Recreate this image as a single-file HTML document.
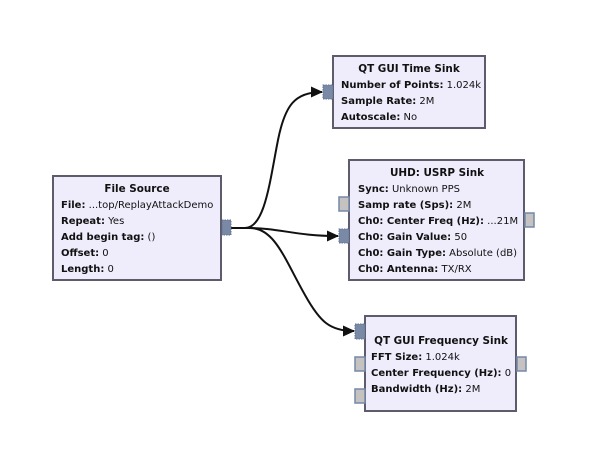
<!DOCTYPE html>
<html><head><meta charset="utf-8"><style>
html,body{margin:0;padding:0;background:#fff;}
svg{display:block;}
text{font-family:"DejaVu Sans","Liberation Sans",sans-serif;font-size:10px;fill:#111;}
.t{font-weight:bold;text-anchor:middle;font-size:10.4px;}
.b{font-weight:bold;}
.box{fill:#efedfc;stroke:#5c5c6c;stroke-width:2;}
.pb{fill:#7a8aa6;stroke:#5f7090;stroke-width:1;stroke-dasharray:1.5 1;}
.pg{fill:#c6c2c2;stroke:#7488a8;stroke-width:1.5;}
.e{fill:none;stroke:#111;stroke-width:2;}
</style></head><body>
<svg width="598" height="463" viewBox="0 0 598 463">
<defs><marker id="a" markerWidth="12" markerHeight="12" refX="11" refY="6" orient="auto" markerUnits="userSpaceOnUse"><path d="M0,0.5 L12,6 L0,11.5 Z" fill="#111"/></marker></defs>
<path class="e" d="M231,228 L245,228 C265,228 270,180 278,140 C285,105 295,92 322,92" marker-end="url(#a)"/>
<path class="e" d="M231,228 L248,228 C280,228 295,236 338,236" marker-end="url(#a)"/>
<path class="e" d="M231,228 L250,228 C275,228 285,260 305,295 C320,322 330,331 354,331" marker-end="url(#a)"/>

<rect class="box" x="53" y="176" width="168" height="104"/>
<rect class="pb" x="222" y="220" width="9" height="15"/>
<text class="t" x="137" y="192">File Source</text>
<text x="61" y="208"><tspan class="b">File:</tspan> ...top/ReplayAttackDemo</text>
<text x="61" y="224"><tspan class="b">Repeat:</tspan> Yes</text>
<text x="61" y="240"><tspan class="b">Add begin tag:</tspan> ()</text>
<text x="61" y="256"><tspan class="b">Offset:</tspan> 0</text>
<text x="61" y="272"><tspan class="b">Length:</tspan> 0</text>

<rect class="box" x="333" y="56" width="152" height="72"/>
<rect class="pb" x="323" y="85" width="10" height="14"/>
<text class="t" x="409" y="72">QT GUI Time Sink</text>
<text x="341" y="88"><tspan class="b">Number of Points:</tspan> 1.024k</text>
<text x="341" y="104"><tspan class="b">Sample Rate:</tspan> 2M</text>
<text x="341" y="120"><tspan class="b">Autoscale:</tspan> No</text>

<rect class="box" x="349" y="160" width="175" height="120"/>
<rect class="pg" x="339" y="197" width="10" height="14"/>
<rect class="pb" x="339" y="229" width="10" height="14"/>
<rect class="pg" x="525" y="213" width="9" height="14"/>
<text class="t" x="437" y="176">UHD: USRP Sink</text>
<text x="358" y="192"><tspan class="b">Sync:</tspan> Unknown PPS</text>
<text x="358" y="208"><tspan class="b">Samp rate (Sps):</tspan> 2M</text>
<text x="358" y="224"><tspan class="b">Ch0: Center Freq (Hz):</tspan> ...21M</text>
<text x="358" y="240"><tspan class="b">Ch0: Gain Value:</tspan> 50</text>
<text x="358" y="256"><tspan class="b">Ch0: Gain Type:</tspan> Absolute (dB)</text>
<text x="358" y="272"><tspan class="b">Ch0: Antenna:</tspan> TX/RX</text>

<rect class="box" x="365" y="316" width="151" height="95"/>
<rect class="pb" x="355" y="324" width="10" height="15"/>
<rect class="pg" x="355" y="357" width="10" height="14"/>
<rect class="pg" x="355" y="389" width="10" height="14"/>
<rect class="pg" x="517" y="357" width="9" height="14"/>
<text class="t" x="441" y="344">QT GUI Frequency Sink</text>
<text x="371" y="360"><tspan class="b">FFT Size:</tspan> 1.024k</text>
<text x="371" y="376"><tspan class="b">Center Frequency (Hz):</tspan> 0</text>
<text x="371" y="392"><tspan class="b">Bandwidth (Hz):</tspan> 2M</text>
</svg>
</body></html>
